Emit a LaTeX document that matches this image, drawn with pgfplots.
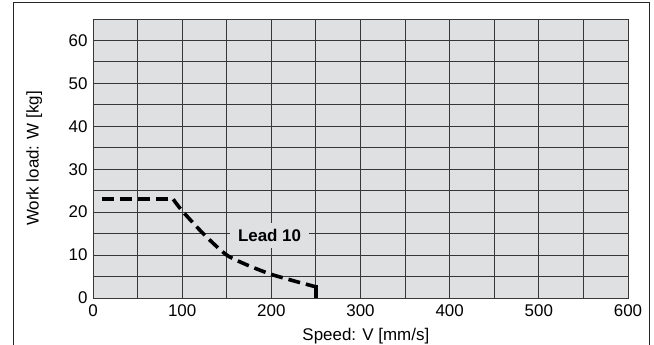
\documentclass[border=0pt]{standalone}
\usepackage{pgfplots}
\pgfplotsset{compat=1.18}
\usepackage{fontspec}
\setmainfont{Liberation Sans}
\definecolor{bggray}{RGB}{223,224,226}
\definecolor{gridc}{RGB}{55,55,55}
\begin{document}
\begin{tikzpicture}
\path[use as bounding box] (0,0) rectangle (654bp,345bp);
\draw[line width=0.8bp, black!85] (13bp,0) -- (13bp,343bp) -- (649.5bp,343bp) -- (649.5bp,0);
\begin{axis}[
  at={(93bp,47bp)}, anchor=south west,
  scale only axis, width=535bp, height=279bp,
  xmin=0, xmax=600, ymin=0, ymax=65,
  xtick={0,100,...,600}, minor xtick={50,150,...,550},
  ytick={0,10,...,60}, minor ytick={5,15,...,65},
  grid=both,
  major grid style={gridc, line width=1bp},
  minor grid style={gridc, line width=1bp},
  axis background/.style={fill=bggray},
  axis line style={gridc, line width=1bp},
  tick style={draw=none},
  ticklabel style={font=\fontsize{17}{20}\selectfont},
  /pgf/number format/assume math mode=true,
  xticklabel style={yshift=-3bp},
  yticklabel style={xshift=-2bp},
  xlabel={Speed: V [mm/s]},
  ylabel={Work load: W [kg]},
  label style={font=\fontsize{17}{20}\selectfont},
  xlabel style={at={(axis description cs:0.51,-0.135)}, anchor=center},
  ylabel style={at={(axis description cs:-0.11,0.5)}, anchor=center, rotate=0},
  clip=false,
]
\addplot[black, line width=3.6bp, dash pattern=on 12bp off 6bp] coordinates {(10,23) (90,23)};
\addplot[black, line width=3.6bp, dash pattern=on 12bp off 6bp, smooth, tension=0.4] coordinates {
  (90,23) (100,20.3) (125,14.7) (150,10) (175,7.5) (200,5.5) (225,4) (250,2.6)};
\addplot[black, line width=3.2bp] coordinates {(250,3) (250,0)};
\node[fill=bggray, inner xsep=8bp, inner ysep=6bp, font=\bfseries\fontsize{17}{20}\selectfont] at (axis cs:198,14.6) {Lead 10};
\end{axis}
\end{tikzpicture}
\end{document}
